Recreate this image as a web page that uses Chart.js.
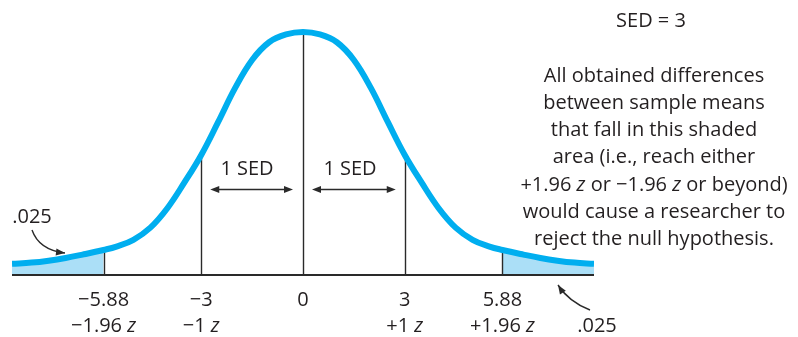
<!DOCTYPE html>
<html>
<head>
<meta charset="utf-8">
<title>Sampling distribution of differences between means</title>
<script src="https://cdn.jsdelivr.net/npm/chart.js@4.4.1/dist/chart.umd.min.js"></script>
<style>
  body { margin: 0; background: #fff; }
  #wrap { width: 798px; height: 337px; }
</style>
</head>
<body>
<div id="wrap"><canvas id="curveChart" width="798" height="337"></canvas></div>
<script>
// Curve heights (relative to the peak) at positions along the axis, in raw score units
const curveX = [-8.58, -8, -7.5, -7, -6.5, -5.88, -5.5, -5, -4.5, -4, -3.5, -3, -2.5, -2, -1.5, -1, -0.5,
                0, 0.5, 1, 1.5, 2, 2.5, 3, 3.5, 4, 4.5, 5, 5.5, 5.88, 6.5, 7, 7.5, 8, 8.58];
const curveY = [0.046, 0.051, 0.059, 0.070, 0.084, 0.103, 0.117, 0.145, 0.195, 0.275, 0.380, 0.494, 0.630, 0.770, 0.885, 0.958, 0.990,
                1.000, 0.990, 0.958, 0.885, 0.770, 0.630, 0.494, 0.380, 0.275, 0.195, 0.145, 0.117, 0.103, 0.084, 0.070, 0.059, 0.051, 0.046];

// Axis marks
const tickValues = [-5.88, -3, 0, 3, 5.88];
const tickLabels = ['\u22125.88', '\u22123', '0', '3', '5.88'];
const zLabels = ['\u22121.96', '\u22121', '', '+1', '+1.96'];
const criticalValue = 5.88;
const tailLabel = '.025';

const FONT = '"Open Sans", "Noto Sans", sans-serif';
const TEXT_COLOR = '#231f20';
const LINE_COLOR = '#2a2a2a';

const curvePoints = curveX.map((x, i) => ({ x: x, y: curveY[i] }));
const leftTail = curvePoints.filter(p => p.x <= -criticalValue);
const rightTail = curvePoints.filter(p => p.x >= criticalValue);

function heightAt(x) {
    const i = curveX.indexOf(x);
    return i >= 0 ? curveY[i] : 0;
}

// Draw a run of plain/italic pieces centred on cx
function drawRuns(ctx, runs, cx, cy, size) {
    let total = 0;
    runs.forEach(r => {
        ctx.font = (r.i ? 'italic ' : '') + size + 'px ' + FONT;
        r.w = ctx.measureText(r.t).width;
        total += r.w;
    });
    let x = cx - total / 2;
    ctx.textAlign = 'left';
    ctx.textBaseline = 'middle';
    runs.forEach(r => {
        ctx.font = (r.i ? 'italic ' : '') + size + 'px ' + FONT;
        ctx.fillText(r.t, x, cy);
        x += r.w;
    });
}

function arrowHead(ctx, tipX, tipY, fromX, fromY, len, half) {
    const a = Math.atan2(tipY - fromY, tipX - fromX);
    ctx.beginPath();
    ctx.moveTo(tipX, tipY);
    ctx.lineTo(tipX - len * Math.cos(a) + half * Math.sin(a), tipY - len * Math.sin(a) - half * Math.cos(a));
    ctx.lineTo(tipX - len * Math.cos(a) - half * Math.sin(a), tipY - len * Math.sin(a) + half * Math.cos(a));
    ctx.closePath();
    ctx.fill();
}

function curvedArrow(ctx, x0, y0, cx, cy, x1, y1) {
    ctx.beginPath();
    ctx.moveTo(x0, y0);
    ctx.quadraticCurveTo(cx, cy, x1, y1);
    ctx.stroke();
    arrowHead(ctx, x1, y1, cx, cy, 9, 3.5);
}

function doubleArrow(ctx, x0, x1, y) {
    ctx.beginPath();
    ctx.moveTo(x0 + 4, y);
    ctx.lineTo(x1 - 4, y);
    ctx.stroke();
    arrowHead(ctx, x0, y, x1, y, 9, 3.5);
    arrowHead(ctx, x1, y, x0, y, 9, 3.5);
}

// Baseline and the vertical markers, drawn under the main curve
const markerPlugin = {
    id: 'markers',
    beforeDatasetDraw(chart, args) {
        if (args.index !== 0) return;
        const ctx = chart.ctx;
        const xs = chart.scales.x, ys = chart.scales.y;
        const base = ys.getPixelForValue(0);
        ctx.save();
        ctx.strokeStyle = LINE_COLOR;
        ctx.lineWidth = 1.4;
        tickValues.forEach(v => {
            const px = Math.round(xs.getPixelForValue(v)) + 0.5;
            ctx.beginPath();
            ctx.moveTo(px, base);
            ctx.lineTo(px, ys.getPixelForValue(heightAt(v)));
            ctx.stroke();
        });
        ctx.lineWidth = 2;
        ctx.beginPath();
        ctx.moveTo(chart.chartArea.left, base);
        ctx.lineTo(chart.chartArea.right, base);
        ctx.stroke();
        ctx.restore();
    }
};

// Axis labels and annotations
const labelPlugin = {
    id: 'labels',
    afterDraw(chart) {
        const ctx = chart.ctx;
        const xs = chart.scales.x;
        ctx.save();
        ctx.fillStyle = TEXT_COLOR;

        tickValues.forEach((v, i) => {
            const px = xs.getPixelForValue(v);
            drawRuns(ctx, [{ t: tickLabels[i] }], px, 300, 20);
            if (zLabels[i]) {
                drawRuns(ctx, [{ t: zLabels[i] + ' ' }, { t: 'z', i: true }], px, 326, 20);
            }
        });

        drawRuns(ctx, [{ t: 'SED = 3' }], 651, 21, 20);

        const para = [
            [{ t: 'All obtained differences' }],
            [{ t: 'between sample means' }],
            [{ t: 'that fall in this shaded' }],
            [{ t: 'area (i.e., reach either' }],
            [{ t: '+1.96 ' }, { t: 'z', i: true }, { t: ' or \u22121.96 ' }, { t: 'z', i: true }, { t: ' or beyond)' }],
            [{ t: 'would cause a researcher to' }],
            [{ t: 'reject the null hypothesis.' }]
        ];
        para.forEach((runs, i) => drawRuns(ctx, runs, 654, 76 + i * 27.2, 20));

        drawRuns(ctx, [{ t: '1 SED' }], 247, 169, 20);
        drawRuns(ctx, [{ t: '1 SED' }], 350, 169, 20);
        drawRuns(ctx, [{ t: tailLabel }], 32, 217, 20);
        drawRuns(ctx, [{ t: tailLabel }], 597, 326, 20);

        ctx.strokeStyle = LINE_COLOR;
        ctx.fillStyle = LINE_COLOR;
        ctx.lineWidth = 1.4;
        doubleArrow(ctx, xs.getPixelForValue(-3) + 9, xs.getPixelForValue(0) - 10, 189.5);
        doubleArrow(ctx, xs.getPixelForValue(0) + 9, xs.getPixelForValue(3) - 9, 189.5);
        curvedArrow(ctx, 32, 230, 39, 250, 65, 253);
        curvedArrow(ctx, 590, 310, 569, 302, 558, 285);
        ctx.restore();
    }
};

const tailStyle = {
    borderWidth: 0,
    borderColor: 'rgba(0,0,0,0)',
    backgroundColor: '#abdff7',
    fill: 'origin',
    pointRadius: 0,
    tension: 0.4,
    order: 2
};

const chart = new Chart(document.getElementById('curveChart'), {
    type: 'line',
    data: {
        datasets: [
            {
                data: curvePoints,
                borderColor: '#00aeef',
                borderWidth: 6,
                borderCapStyle: 'butt',
                pointRadius: 0,
                fill: false,
                tension: 0.4,
                order: 1
            },
            Object.assign({ data: leftTail }, tailStyle),
            Object.assign({ data: rightTail }, tailStyle)
        ]
    },
    options: {
        responsive: false,
        animation: false,
        layout: { padding: { left: 12, right: 204, top: 12.6, bottom: 62 } },
        plugins: {
            legend: { display: false },
            tooltip: { enabled: false }
        },
        scales: {
            x: { type: 'linear', min: -8.58, max: 8.58, display: false },
            y: { min: 0, max: 1.08, display: false }
        }
    },
    plugins: [markerPlugin, labelPlugin]
});
</script>
</body>
</html>
